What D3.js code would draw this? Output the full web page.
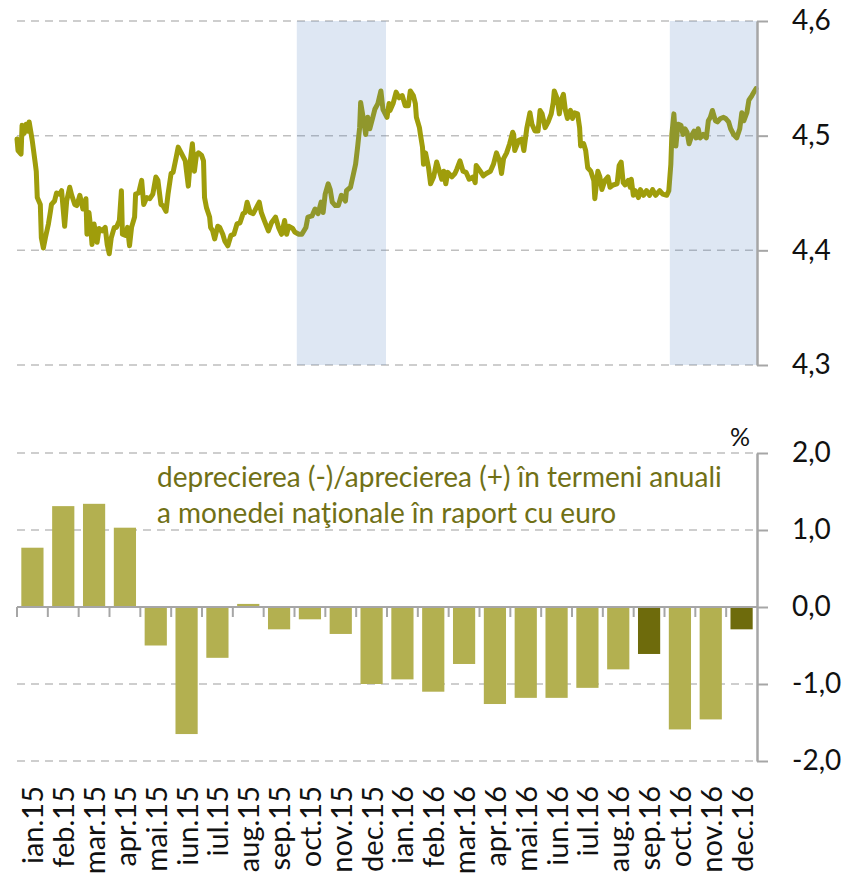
<!DOCTYPE html>
<html>
<head>
<meta charset="utf-8">
<script src="https://cdn.jsdelivr.net/npm/d3@7"></script>
<style>
  body { margin: 0; background: #fff; }
  svg { display: block; font-family: Lato, "Open Sans", sans-serif; }
</style>
</head>
<body>
<div id="chart"></div>
<script>
// monthly categories for the bar panel
var months = ["ian.15", "feb.15", "mar.15", "apr.15", "mai.15", "iun.15", "iul.15", "aug.15",
  "sep.15", "oct.15", "nov.15", "dec.15", "ian.16", "feb.16", "mar.16", "apr.16", "mai.16",
  "iun.16", "iul.16", "aug.16", "sep.16", "oct.16", "nov.16", "dec.16"];

// annual depreciation (-) / appreciation (+) of the leu vs euro, %
var annualChange = [0.77, 1.31, 1.34, 1.03, -0.50, -1.65, -0.66, 0.04, -0.29, -0.16, -0.35, -1.00,
  -0.94, -1.10, -0.74, -1.26, -1.18, -1.18, -1.05, -0.81, -0.61, -1.59, -1.46, -0.29];

// months drawn in the darker colour
var darkMonths = ["sep.16", "dec.16"];

var rateTicks = [4.3, 4.4, 4.5, 4.6];
var changeTicks = [-2, -1, 0, 1, 2];

// shaded periods (quarter IV)
var shadedPeriods = [["2015-10-04", "2015-12-31"], ["2016-10-06", "2016-12-31"]];

// EUR/RON exchange rate: [days since 1 Jan 2015, lei per euro]
var eurRon = [
  [0, 4.497], [1, 4.487], [4, 4.484], [5, 4.509], [7, 4.502], [9, 4.510], [11, 4.504], [12, 4.512],
  [15, 4.496], [18, 4.476], [19, 4.469], [20, 4.446], [23, 4.440], [24, 4.411], [26, 4.402], [28, 4.411],
  [31, 4.423], [33, 4.434], [34, 4.440], [37, 4.443], [39, 4.450], [42, 4.449], [44, 4.452], [47, 4.421],
  [49, 4.443], [52, 4.455], [54, 4.448], [57, 4.440], [59, 4.439], [62, 4.448], [65, 4.436], [68, 4.445],
  [69, 4.414], [71, 4.433], [73, 4.417], [74, 4.405], [76, 4.423], [79, 4.407], [81, 4.419], [84, 4.417],
  [87, 4.420], [89, 4.405], [91, 4.397], [93, 4.411], [96, 4.420], [98, 4.420], [101, 4.426], [103, 4.452],
  [104, 4.414], [107, 4.413], [109, 4.420], [111, 4.404], [113, 4.420], [116, 4.429], [117, 4.449], [120, 4.450],
  [123, 4.461], [125, 4.440], [128, 4.446], [131, 4.445], [134, 4.449], [137, 4.464], [139, 4.461], [142, 4.440],
  [144, 4.439], [147, 4.434], [149, 4.449], [152, 4.467], [154, 4.468], [157, 4.481], [159, 4.490], [162, 4.485],
  [166, 4.478], [169, 4.456], [171, 4.478], [173, 4.493], [175, 4.469], [177, 4.483], [179, 4.485], [182, 4.483],
  [184, 4.478], [185, 4.446], [187, 4.437], [190, 4.429], [191, 4.420], [193, 4.417], [195, 4.410], [198, 4.421],
  [200, 4.420], [203, 4.414], [205, 4.408], [208, 4.404], [211, 4.413], [214, 4.414], [217, 4.423], [220, 4.424],
  [223, 4.432], [225, 4.433], [227, 4.442], [230, 4.433], [233, 4.432], [236, 4.437], [239, 4.442], [241, 4.433],
  [244, 4.426], [248, 4.417], [251, 4.424], [255, 4.429], [258, 4.420], [261, 4.414], [264, 4.426], [266, 4.414],
  [268, 4.421], [272, 4.419], [274, 4.416], [278, 4.414], [281, 4.414], [285, 4.420], [287, 4.429], [291, 4.430],
  [294, 4.436], [297, 4.432], [300, 4.442], [302, 4.433], [304, 4.449], [307, 4.458], [309, 4.453], [311, 4.442],
  [314, 4.439], [317, 4.439], [320, 4.448], [324, 4.443], [325, 4.452], [329, 4.455], [332, 4.467], [334, 4.475],
  [336, 4.490], [338, 4.507], [339, 4.529], [342, 4.513], [344, 4.501], [346, 4.516], [348, 4.506], [351, 4.516],
  [353, 4.523], [356, 4.528], [359, 4.539], [361, 4.523], [365, 4.516], [367, 4.528], [368, 4.522], [371, 4.528],
  [374, 4.538], [377, 4.533], [380, 4.535], [383, 4.526], [386, 4.526], [388, 4.539], [391, 4.535], [393, 4.528],
  [394, 4.516], [397, 4.507], [398, 4.501], [400, 4.490], [401, 4.475], [403, 4.485], [406, 4.472], [408, 4.458],
  [411, 4.464], [414, 4.477], [417, 4.468], [419, 4.462], [421, 4.469], [423, 4.458], [425, 4.468], [429, 4.464],
  [432, 4.467], [434, 4.471], [437, 4.478], [440, 4.469], [443, 4.468], [446, 4.462], [450, 4.464], [452, 4.459],
  [453, 4.474], [457, 4.469], [460, 4.465], [463, 4.467], [467, 4.469], [470, 4.475], [473, 4.485], [476, 4.478],
  [478, 4.467], [480, 4.480], [483, 4.485], [486, 4.493], [489, 4.503], [490, 4.501], [491, 4.487], [495, 4.496],
  [498, 4.497], [500, 4.487], [503, 4.507], [506, 4.520], [508, 4.510], [511, 4.504], [514, 4.504], [516, 4.522],
  [518, 4.519], [521, 4.507], [524, 4.512], [527, 4.519], [529, 4.529], [530, 4.539], [533, 4.532], [535, 4.519],
  [537, 4.531], [539, 4.536], [541, 4.522], [543, 4.515], [546, 4.522], [548, 4.515], [550, 4.520], [553, 4.519],
  [555, 4.507], [556, 4.491], [559, 4.493], [561, 4.487], [563, 4.472], [566, 4.469], [569, 4.461], [570, 4.445],
  [573, 4.469], [575, 4.464], [577, 4.453], [580, 4.461], [583, 4.464], [585, 4.455], [588, 4.457], [592, 4.458],
  [594, 4.474], [596, 4.477], [598, 4.459], [600, 4.457], [603, 4.461], [605, 4.455], [606, 4.462], [608, 4.448],
  [610, 4.452], [613, 4.446], [615, 4.453], [618, 4.448], [621, 4.452], [624, 4.448], [627, 4.453], [630, 4.448],
  [634, 4.452], [637, 4.449], [641, 4.448], [643, 4.452], [645, 4.475], [646, 4.501], [648, 4.519], [650, 4.491],
  [652, 4.510], [655, 4.509], [657, 4.501], [659, 4.506], [661, 4.503], [663, 4.493], [666, 4.501], [668, 4.504],
  [670, 4.498], [672, 4.506], [674, 4.498], [677, 4.501], [680, 4.498], [682, 4.513], [684, 4.516], [686, 4.522],
  [689, 4.513], [691, 4.512], [694, 4.515], [697, 4.516], [699, 4.515], [702, 4.512], [704, 4.506], [707, 4.501],
  [710, 4.498], [713, 4.506], [715, 4.520], [717, 4.513], [720, 4.520], [722, 4.531], [725, 4.535], [727, 4.538],
  [729, 4.541]
];

var noteLines = ["deprecierea (-)/aprecierea (+) în termeni anuali",
  "a monedei naţionale în raport cu euro"];

// layout
var width = 844, height = 875;
var left = 17, right = 757;
var top1 = 21, bottom1 = 365;
var top2 = 453, bottom2 = 761;

var comma = function(d) { return d3.format(".1f")(d).replace(".", ",").replace("−", "-"); };

var svg = d3.select("#chart").append("svg")
  .attr("width", width)
  .attr("height", height);

// ---- top panel: exchange rate ----
var start = new Date(2015, 0, 1);
var parse = d3.timeParse("%Y-%m-%d");

var xTime = d3.scaleTime()
  .domain([start, new Date(2016, 11, 31)])
  .range([left, right]);

var yRate = d3.scaleLinear()
  .domain([4.3, 4.6])
  .range([bottom1, top1]);

var ratePanel = svg.append("g");

ratePanel.selectAll("line.grid")
  .data(rateTicks)
  .join("line")
  .attr("class", "grid")
  .attr("x1", left)
  .attr("x2", right)
  .attr("y1", d => yRate(d))
  .attr("y2", d => yRate(d))
  .attr("stroke", "#bfbfbf")
  .attr("stroke-width", 1.5)
  .attr("stroke-dasharray", "8,6");

var line = d3.line()
  .x(d => xTime(d3.timeDay.offset(start, d[0])))
  .y(d => yRate(d[1]));

ratePanel.append("path")
  .datum(eurRon)
  .attr("d", line)
  .attr("fill", "none")
  .attr("stroke", "#9f9d0b")
  .attr("stroke-width", 5)
  .attr("stroke-linejoin", "round")
  .attr("stroke-linecap", "round");

// shading goes on top of the line, translucent
ratePanel.selectAll("rect.shade")
  .data(shadedPeriods)
  .join("rect")
  .attr("class", "shade")
  .attr("x", d => xTime(parse(d[0])))
  .attr("width", d => xTime(parse(d[1])) - xTime(parse(d[0])))
  .attr("y", top1)
  .attr("height", bottom1 - top1)
  .attr("fill", "#4f81bd")
  .attr("fill-opacity", 0.19);

var axisRate = d3.axisRight(yRate)
  .tickValues(rateTicks)
  .tickSize(11)
  .tickSizeOuter(0)
  .tickPadding(24)
  .tickFormat(comma);

var gRate = ratePanel.append("g")
  .attr("transform", `translate(${right},0)`)
  .call(axisRate);

// ---- bottom panel: annual change bars ----
var xBand = d3.scaleBand()
  .domain(months)
  .range([left, right])
  .paddingInner(0.28)
  .paddingOuter(0.14);

var yChange = d3.scaleLinear()
  .domain([-2, 2])
  .range([bottom2, top2]);

var barPanel = svg.append("g");

barPanel.selectAll("line.grid")
  .data(changeTicks.filter(d => d !== 0))
  .join("line")
  .attr("class", "grid")
  .attr("x1", left)
  .attr("x2", right)
  .attr("y1", d => yChange(d))
  .attr("y2", d => yChange(d))
  .attr("stroke", "#bfbfbf")
  .attr("stroke-width", 1.5)
  .attr("stroke-dasharray", "8,6");

barPanel.selectAll("rect.bar")
  .data(annualChange)
  .join("rect")
  .attr("class", "bar")
  .attr("x", (d, i) => xBand(months[i]))
  .attr("width", xBand.bandwidth())
  .attr("y", d => yChange(Math.max(0, d)))
  .attr("height", d => Math.abs(yChange(d) - yChange(0)))
  .attr("fill", (d, i) => darkMonths.includes(months[i]) ? "#6e6b0c" : "#b3b050");

// zero line with ticks between the months
var half = xBand.step() * xBand.paddingInner() / 2;
barPanel.append("line")
  .attr("x1", left)
  .attr("x2", right)
  .attr("y1", yChange(0))
  .attr("y2", yChange(0))
  .attr("stroke", "#a6a6a6")
  .attr("stroke-width", 2);

barPanel.selectAll("line.xtick")
  .data(months)
  .join("line")
  .attr("class", "xtick")
  .attr("x1", d => xBand(d) - half)
  .attr("x2", d => xBand(d) - half)
  .attr("y1", yChange(0))
  .attr("y2", yChange(0) + 10)
  .attr("stroke", "#a6a6a6")
  .attr("stroke-width", 2);

var axisChange = d3.axisRight(yChange)
  .tickValues(changeTicks)
  .tickSize(11)
  .tickSizeOuter(0)
  .tickPadding(24)
  .tickFormat(comma);

var gChange = barPanel.append("g")
  .attr("transform", `translate(${right},0)`)
  .call(axisChange);

// axis styling
[gRate, gChange].forEach(function(g) {
  g.select(".domain").attr("stroke", "#a6a6a6").attr("stroke-width", 2.5);
  g.selectAll(".tick line").attr("stroke", "#a6a6a6").attr("stroke-width", 2);
  g.selectAll(".tick text")
    .attr("font-size", 28)
    .attr("font-family", "Lato, sans-serif")
    .attr("fill", "#111");
});

barPanel.append("text")
  .attr("x", 740)
  .attr("y", 446)
  .attr("text-anchor", "middle")
  .attr("font-size", 25)
  .attr("fill", "#111")
  .text("%");

// month labels, rotated
barPanel.selectAll("text.month")
  .data(months)
  .join("text")
  .attr("class", "month")
  .attr("transform", d => `translate(${xBand(d) + xBand.bandwidth() / 2},786) rotate(-90)`)
  .attr("y", 11)
  .attr("text-anchor", "end")
  .attr("font-size", 29)
  .attr("fill", "#111")
  .text(d => d);

// annotation
barPanel.selectAll("text.note")
  .data(noteLines)
  .join("text")
  .attr("class", "note")
  .attr("x", 157)
  .attr("y", (d, i) => 487 + i * 36)
  .attr("font-size", 28)
  .attr("fill", "#707016")
  .text(d => d);
</script>
</body>
</html>
